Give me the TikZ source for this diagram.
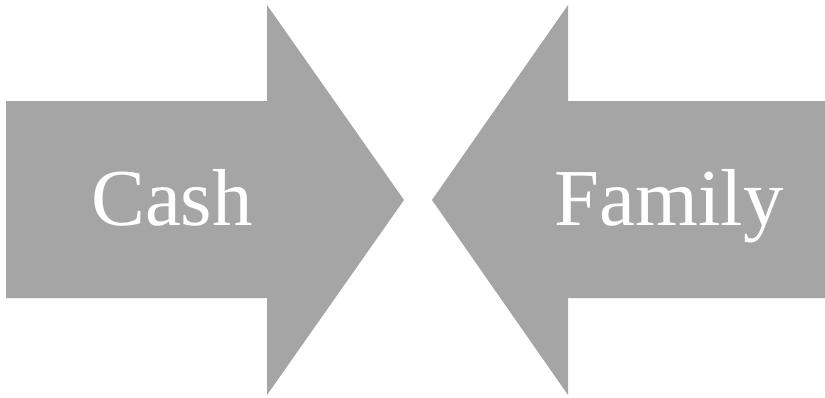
\documentclass[tikz,border=0pt]{standalone}
\usepackage{fontspec}
\setmainfont{Liberation Serif}
\definecolor{ARRgray}{HTML}{A5A5A5}
\usetikzlibrary{positioning}

\begin{document}
\begin{tikzpicture}[x=0.02cm, y=-0.02cm,
   word/.style={text=white, anchor=base, font=\fontsize{46}{46}\selectfont}]
      \useasboundingbox (0,0) rectangle (825,397);
      % Left arrow (pointing right)
      \fill[ARRgray] (6,101) -- (267,101) -- (267,5) -- (404,200)
         -- (267,395) -- (267,298) -- (6,298) -- cycle;
      % Right arrow (pointing left)
      \fill[ARRgray] (825,101) -- (568,101) -- (568,5) -- (432,200)
         -- (568,395) -- (568,298) -- (825,298) -- cycle;
      % Labels
      \node[word] (cash) at (172,225) {Cash};
      \node[word] (family) at (669,225) {Family};
   \end{tikzpicture}
\end{document}
